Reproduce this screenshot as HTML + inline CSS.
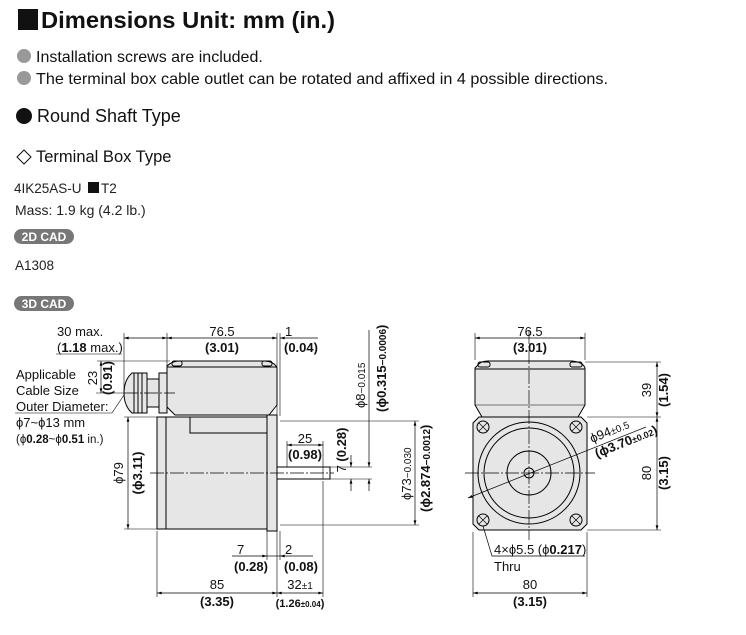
<!DOCTYPE html>
<html><head><meta charset="utf-8"><style>
html,body{margin:0;padding:0;background:#fff;}
svg{display:block;font-family:"Liberation Sans",Arial,sans-serif;}
.n{font-family:"Liberation Sans Narrow","Liberation Sans",sans-serif;}
</style></head><body>
<svg width="746" height="635" viewBox="0 0 746 635" xmlns="http://www.w3.org/2000/svg">
<defs>
<marker id="a" viewBox="0 0 10 6" refX="10" refY="3" markerWidth="7" markerHeight="4" orient="auto-start-reverse"><path d="M0,0L10,3L0,6z" fill="#000"/></marker>
</defs>
<!-- header -->
<rect x="18" y="9" width="20" height="21" fill="#111"/>
<text x="41" y="28" font-size="23" font-weight="bold" fill="#111" textLength="294" lengthAdjust="spacingAndGlyphs">Dimensions Unit: mm (in.)</text>
<circle cx="24" cy="56" r="7" fill="#999"/>
<text x="36" y="62" font-size="16" fill="#111">Installation screws are included.</text>
<circle cx="24" cy="78" r="7" fill="#999"/>
<text x="36" y="84" font-size="16" fill="#111" textLength="572" lengthAdjust="spacingAndGlyphs">The terminal box cable outlet can be rotated and affixed in 4 possible directions.</text>
<circle cx="24" cy="116" r="8" fill="#111"/>
<text x="37" y="122" font-size="18" fill="#111">Round Shaft Type</text>
<path d="M17,157 L24,150 L31,157 L24,164 Z" fill="none" stroke="#111" stroke-width="1"/>
<text x="36" y="162" font-size="16.5" fill="#111">Terminal Box Type</text>
<text x="14" y="193" font-size="13.5" fill="#222">4IK25AS-U</text>
<rect x="88" y="182" width="11" height="11" fill="#111"/>
<text x="101" y="193" font-size="13.5" fill="#222">T2</text>
<text x="15" y="215" font-size="14" fill="#222">Mass: 1.9 kg (4.2 lb.)</text>
<rect x="14" y="229" width="60" height="15" rx="7.5" fill="#777"/>
<text x="44" y="241" font-size="12" font-weight="bold" fill="#fff" text-anchor="middle">2D CAD</text>
<text x="15" y="270" font-size="13.5" fill="#222">A1308</text>
<rect x="14" y="296" width="60" height="15" rx="7.5" fill="#777"/>
<text x="44" y="308" font-size="12" font-weight="bold" fill="#fff" text-anchor="middle">3D CAD</text>

<g stroke="#000" stroke-width="1" fill="none">
<path d="M167,366 Q172,361 180,361 L265,361 Q275,362 277,368 L277,405 L269,415 L175,415 L167,407 Z" fill="#e6e6e6"/>
<line x1="167" y1="367" x2="277" y2="367"/>
<rect x="172" y="361" width="10" height="5" rx="2"/>
<rect x="262" y="361" width="10" height="5" rx="2"/>
<rect x="159" y="373" width="8" height="40" fill="#e6e6e6"/>
<rect x="147" y="379" width="12" height="28" fill="#e6e6e6"/>
<path d="M132,373 L147,373 L147,413 L132,413 Q124,406 124,393 Q124,380 132,373 Z" fill="#e6e6e6"/>
<line x1="134" y1="373" x2="134" y2="413"/><line x1="138" y1="373" x2="138" y2="413"/><line x1="142" y1="373" x2="142" y2="413"/>
<rect x="157" y="417" width="110" height="112" fill="#e6e6e6"/>
<line x1="166" y1="417" x2="166" y2="529"/>
<rect x="190" y="417" width="77" height="16" fill="#e6e6e6"/>
<rect x="267" y="415" width="10" height="116" fill="#e6e6e6"/>
<rect x="277" y="467" width="53" height="12" fill="#fff"/>
<line x1="150" y1="473" x2="334" y2="473" stroke-dasharray="14,2,2,2" stroke-width=".7"/>
<line x1="124" y1="393" x2="175" y2="393" stroke-dasharray="14,2,2,2" stroke-width=".7"/>
<line x1="124" y1="333" x2="124" y2="393" stroke-width=".6"/>
<line x1="167" y1="333" x2="167" y2="366" stroke-width=".6"/>
<line x1="277" y1="333" x2="277" y2="416" stroke-width=".6"/>
<line x1="280" y1="333" x2="280" y2="416" stroke-width=".6"/>
<line x1="124" y1="338" x2="167" y2="338" marker-start="url(#a)" marker-end="url(#a)" stroke-width=".7"/>
<line x1="167" y1="338" x2="277" y2="338" marker-start="url(#a)" marker-end="url(#a)" stroke-width=".7"/>
<line x1="280" y1="338" x2="318" y2="338" marker-start="url(#a)" stroke-width=".7"/>
<line x1="56" y1="354" x2="122" y2="354" stroke-width=".6"/>
<line x1="97" y1="361" x2="170" y2="361" stroke-width=".6"/>
<line x1="101" y1="361" x2="101" y2="393" marker-start="url(#a)" marker-end="url(#a)" stroke-width=".7"/>
<line x1="96" y1="393" x2="124" y2="393" stroke-width=".6"/>
<line x1="15" y1="413" x2="112" y2="413" stroke-width=".6"/>
<line x1="112" y1="413" x2="124" y2="395" stroke-width=".6"/>
<line x1="124" y1="417" x2="157" y2="417" stroke-width=".6"/>
<line x1="124" y1="529" x2="157" y2="529" stroke-width=".6"/>
<line x1="128" y1="417" x2="128" y2="529" marker-start="url(#a)" marker-end="url(#a)" stroke-width=".7"/>
<line x1="287" y1="441" x2="287" y2="467" stroke-width=".6"/>
<line x1="323" y1="441" x2="323" y2="479" stroke-width=".6"/>
<line x1="287" y1="445" x2="323" y2="445" marker-start="url(#a)" marker-end="url(#a)" stroke-width=".7"/>
<line x1="330" y1="467" x2="372" y2="467" stroke-width=".6"/>
<line x1="330" y1="479" x2="372" y2="479" stroke-width=".6"/>
<line x1="351" y1="455" x2="351" y2="467" marker-end="url(#a)" stroke-width=".7"/>
<line x1="351" y1="491" x2="351" y2="479" marker-end="url(#a)" stroke-width=".7"/>
<line x1="369" y1="330" x2="369" y2="467" marker-end="url(#a)" stroke-width=".7"/>
<line x1="369" y1="491" x2="369" y2="479" marker-end="url(#a)" stroke-width=".7"/>
<line x1="280" y1="421" x2="419" y2="421" stroke-width=".6"/>
<line x1="280" y1="525" x2="419" y2="525" stroke-width=".6"/>
<line x1="415" y1="421" x2="415" y2="525" marker-start="url(#a)" marker-end="url(#a)" stroke-width=".7"/>
<line x1="157" y1="531" x2="157" y2="597" stroke-width=".6"/>
<line x1="267" y1="531" x2="267" y2="560" stroke-width=".6"/>
<line x1="277" y1="531" x2="277" y2="597" stroke-width=".6"/>
<line x1="280" y1="531" x2="280" y2="560" stroke-width=".6"/>
<line x1="323" y1="481" x2="323" y2="597" stroke-width=".6"/>
<line x1="232" y1="556" x2="267" y2="556" marker-end="url(#a)" stroke-width=".7"/>
<line x1="267" y1="556" x2="280" y2="556" stroke-width=".7"/>
<line x1="313" y1="556" x2="280" y2="556" marker-end="url(#a)" stroke-width=".7"/>
<line x1="157" y1="593" x2="277" y2="593" marker-start="url(#a)" marker-end="url(#a)" stroke-width=".7"/>
<line x1="277" y1="593" x2="323" y2="593" marker-start="url(#a)" marker-end="url(#a)" stroke-width=".7"/>

<path d="M477,366 Q480,361 488,361 L572,361 Q583,362 585,368 L585,405 L578,417 L482,417 L475,405 L475,368 Z" fill="#e6e6e6"/>
<line x1="475" y1="369" x2="585" y2="369"/>
<rect x="478" y="362" width="12" height="5" rx="2"/>
<rect x="570" y="362" width="12" height="5" rx="2"/>
<line x1="475" y1="405" x2="585" y2="405" stroke-width=".5"/>
<path d="M479,417 L581,417 L587,423 L587,524 L581,530 L479,530 L473,524 L473,423 Z" fill="#e6e6e6"/>
<circle cx="529" cy="473" r="51"/>
<circle cx="529" cy="473" r="45"/>
<circle cx="529" cy="473" r="22"/>
<circle cx="529" cy="473" r="5"/>
<circle cx="483" cy="427" r="6"/><circle cx="576" cy="427" r="6"/>
<circle cx="483" cy="520" r="6"/><circle cx="576" cy="520" r="6"/>
<path d="M479,423 L487,431 M487,423 L479,431 M572,423 L580,431 M580,423 L572,431 M479,516 L487,524 M487,516 L479,524 M572,516 L580,524 M580,516 L572,524" stroke-width=".7"/>
<line x1="529" y1="330" x2="529" y2="540" stroke-dasharray="14,2,2,2" stroke-width=".7"/>
<line x1="465" y1="473" x2="595" y2="473" stroke-dasharray="14,2,2,2" stroke-width=".7"/>
<line x1="475" y1="333" x2="475" y2="360" stroke-width=".6"/>
<line x1="585" y1="333" x2="585" y2="360" stroke-width=".6"/>
<line x1="475" y1="338" x2="585" y2="338" marker-start="url(#a)" marker-end="url(#a)" stroke-width=".7"/>
<line x1="585" y1="362" x2="661" y2="362" stroke-width=".6"/>
<line x1="587" y1="417" x2="661" y2="417" stroke-width=".6"/>
<line x1="587" y1="530" x2="661" y2="530" stroke-width=".6"/>
<line x1="657" y1="362" x2="657" y2="417" marker-start="url(#a)" marker-end="url(#a)" stroke-width=".7"/>
<line x1="657" y1="417" x2="657" y2="530" marker-start="url(#a)" marker-end="url(#a)" stroke-width=".7"/>
<line x1="468" y1="498" x2="646" y2="427" marker-start="url(#a)" stroke-width=".7"/>
<path d="M483,526 L492,556 L585,556" stroke-width=".7"/>
<line x1="473" y1="532" x2="473" y2="597" stroke-width=".6"/>
<line x1="587" y1="532" x2="587" y2="597" stroke-width=".6"/>
<line x1="473" y1="593" x2="587" y2="593" marker-start="url(#a)" marker-end="url(#a)" stroke-width=".7"/>
</g>

<g class="n" font-size="13" fill="#111">
<text x="57" y="336">30 max.</text>
<text x="57" y="352">(<tspan font-weight="bold">1.18</tspan> max.)</text>
<text x="222" y="336" text-anchor="middle">76.5</text>
<text x="222" y="352" text-anchor="middle" font-weight="bold">(3.01)</text>
<text x="285" y="336">1</text>
<text x="284" y="352" font-weight="bold">(0.04)</text>
<text transform="translate(97,378) rotate(-90)" text-anchor="middle">23</text>
<text transform="translate(112,378) rotate(-90)" text-anchor="middle" font-weight="bold">(0.91)</text>
<text x="16" y="379">Applicable</text>
<text x="16" y="395">Cable Size</text>
<text x="16" y="411">Outer Diameter:</text>
<text x="16" y="427">ϕ7~ϕ13 mm</text>
<text x="16" y="443" font-size="11.5">(ϕ<tspan font-weight="bold">0.28</tspan>~ϕ<tspan font-weight="bold">0.51</tspan> in.)</text>
<text transform="translate(123,473) rotate(-90)" text-anchor="middle">ϕ79</text>
<text transform="translate(142,473) rotate(-90)" text-anchor="middle" font-weight="bold">(ϕ3.11)</text>
<text x="305" y="443" text-anchor="middle">25</text>
<text x="305" y="459" text-anchor="middle" font-weight="bold">(0.98)</text>
<text transform="translate(346,450) rotate(-90)" text-anchor="middle">7 <tspan font-weight="bold">(0.28)</tspan></text>
<text transform="translate(365,408) rotate(-90)">ϕ8<tspan font-size="10">−0.015</tspan></text>
<text transform="translate(386,412) rotate(-90)" font-weight="bold">(ϕ0.315<tspan font-size="10">−0.0006</tspan>)</text>
<text transform="translate(411,500) rotate(-90)">ϕ73<tspan font-size="10">−0.030</tspan></text>
<text transform="translate(430,512) rotate(-90)" font-weight="bold">(ϕ2.874<tspan font-size="10">−0.0012</tspan>)</text>
<text x="237" y="554">7</text>
<text x="234" y="571" font-weight="bold">(0.28)</text>
<text x="285" y="554">2</text>
<text x="284" y="571" font-weight="bold">(0.08)</text>
<text x="217" y="589" text-anchor="middle">85</text>
<text x="217" y="606" text-anchor="middle" font-weight="bold">(3.35)</text>
<text x="300" y="589" text-anchor="middle">32<tspan font-size="10">±1</tspan></text>
<text x="300" y="607" text-anchor="middle" font-size="11" font-weight="bold">(1.26<tspan font-size="8">±0.04</tspan>)</text>
<text x="530" y="336" text-anchor="middle">76.5</text>
<text x="530" y="352" text-anchor="middle" font-weight="bold">(3.01)</text>
<text transform="translate(651,390) rotate(-90)" text-anchor="middle">39</text>
<text transform="translate(668,390) rotate(-90)" text-anchor="middle" font-weight="bold">(1.54)</text>
<text transform="translate(651,473) rotate(-90)" text-anchor="middle">80</text>
<text transform="translate(668,473) rotate(-90)" text-anchor="middle" font-weight="bold">(3.15)</text>
<text transform="translate(592,443) rotate(-22)">ϕ94<tspan font-size="10">±0.5</tspan></text>
<text transform="translate(597,458) rotate(-22)" font-weight="bold">(ϕ3.70<tspan font-size="9">±0.02</tspan>)</text>
<text x="494" y="554">4×ϕ5.5 (ϕ<tspan font-weight="bold">0.217</tspan>)</text>
<text x="494" y="571">Thru</text>
<text x="530" y="589" text-anchor="middle">80</text>
<text x="530" y="606" text-anchor="middle" font-weight="bold">(3.15)</text>
</g>
</svg>
</body></html>
